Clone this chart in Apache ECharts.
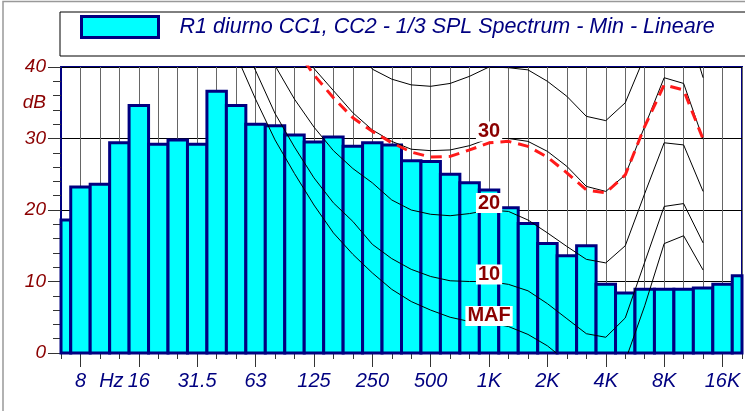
<!DOCTYPE html>
<html>
<head>
<meta charset="utf-8">
<script src="https://cdn.jsdelivr.net/npm/echarts@6/dist/echarts.min.js"></script>
<style>
  html, body { margin: 0; padding: 0; background: #fff; }
  #chart { width: 745px; height: 411px; }
</style>
</head>
<body>
<div id="chart"></div>
<script>
// 1/3 octave bands, 6.3 Hz .. 20 kHz
const bands = ['6.3','8','10','12.5','16','20','25','31.5','40','50','63','80','100','125','160','200','250','315','400','500','630','800',
  '1k','1.25k','1.6k','2k','2.5k','3.15k','4k','5k','6.3k','8k','10k','12.5k','16k','20k'];
// labels shown under the long ticks
const tickLabels = ['','8','','Hz','16','','','31.5','','','63','','','125','','','250','','','500','','','1K','','','2K','','','4K','','','8K','','','16K',''];

const barName = 'R1 diurno CC1, CC2 - 1/3 SPL Spectrum - Min - Lineare';
const spl = [18.6,23.2,23.6,29.4,34.6,29.2,29.8,29.2,36.6,34.6,32.0,31.8,30.5,29.5,30.2,28.9,29.4,29.1,26.9,26.8,25.0,23.8,
  22.8,20.3,18.1,15.3,13.6,15.0,9.6,8.4,8.9,8.9,8.9,9.1,9.6,10.8];

// equal loudness contours
const maf = [null,null,null,null,null,74.3,65.0,56.3,48.4,41.7,35.5,29.8,25.1,20.7,16.8,13.8,11.2,8.9,7.2,6.0,5.0,4.4,
  4.2,3.7,2.6,1.0,-1.2,-3.6,-3.9,-1.1,6.6,15.3,16.4,11.6];
const phon10 = [null,null,null,null,null,null,null,null,52.0,45.3,39.5,33.5,28.8,24.5,21.0,18.4,15.2,13.2,11.7,10.7,10.1,10.0,
  10.0,9.6,8.7,6.9,4.8,2.7,2.2,4.9,12.7,20.5,20.9,15.4];
const phon20 = [null,null,null,null,null,null,null,null,null,49.0,45.0,40.2,35.5,31.6,28.3,25.8,23.8,21.4,20.0,19.4,19.2,19.5,
  20.0,19.8,18.6,16.8,14.9,13.1,12.6,15.0,22.3,29.4,29.1,22.6];
const phon30 = [null,null,null,null,null,null,null,null,null,null,null,48.5,44.0,39.8,36.7,33.6,31.2,29.6,28.5,28.3,28.4,29.0,
  30.0,30.0,29.6,28.2,26.1,23.3,22.6,24.9,31.7,38.5,37.7,29.9];
const phon40 = [null,null,null,null,null,null,null,null,null,null,null,null,null,null,48.5,44.0,39.7,38.3,37.5,37.3,37.7,38.7,
  40.0,39.9,39.6,38.0,35.9,33.1,32.5,35.0,41.5,48.0,47.5,38.5];
const limit = [null,null,null,null,null,null,null,null,null,null,null,null,42.8,38.9,35.7,32.9,31.0,29.4,28.1,27.4,27.5,28.4,
  29.4,29.6,28.9,27.4,25.2,22.8,22.4,24.9,31.7,37.5,36.8,29.9];

const labelAt = 22; // 1 kHz
const FONT = 'Liberation Sans';
const CYAN = '#00FFFF', NAVY = '#000080';

function contour(name, values, text) {
  const data = values.map((v, i) => {
    if (i !== labelAt || !text) return v;
    return {
      value: v,
      label: {
        show: true, formatter: text, position: 'inside', offset: [0, -7],
        color: '#8B0000', fontWeight: 'bold', fontSize: 20, fontFamily: FONT,
        backgroundColor: '#fff', padding: [0, 2]
      }
    };
  });
  return {
    name: name, type: 'line', data: data,
    symbol: 'circle', symbolSize: 0, showSymbol: true,
    itemStyle: { color: 'rgba(0,0,0,0)' },
    lineStyle: { color: '#000', width: 1 },
    label: { show: false },
    silent: true, z: 3
  };
}

// bars centred on the band ticks, clipped to the plot area (half bars at both ends)
function renderBar(params, api) {
  const top = api.coord([api.value(0), api.value(1)]);
  const base = api.coord([api.value(0), 0]);
  const w = api.size([1, 0])[0];
  const cs = params.coordSys;
  const rect = echarts.graphic.clipRectByRect(
    { x: top[0] - w / 2, y: top[1], width: w, height: base[1] - top[1] },
    { x: cs.x, y: cs.y, width: cs.width, height: cs.height }
  );
  if (!rect) return;
  return { type: 'rect', shape: rect, style: { fill: CYAN, stroke: NAVY, lineWidth: 3 } };
}

const chart = echarts.init(document.getElementById('chart'), null, { renderer: 'canvas' });
chart.setOption({
  animation: false,
  backgroundColor: '#fff',
  grid: { left: 61, right: 1, top: 67, bottom: 58, show: true, borderColor: NAVY, borderWidth: 2 },
  legend: {
    data: [{ name: barName, icon: 'rect', itemStyle: { color: CYAN, borderColor: NAVY, borderWidth: 3 } }],
    left: 60, top: 12,
    padding: [3, 60, 17, 20],
    itemWidth: 77, itemHeight: 21,
    borderColor: '#000', borderWidth: 1,
    selectedMode: false,
    textStyle: { color: NAVY, fontStyle: 'italic', fontSize: 21.5, fontFamily: FONT, padding: [0, 0, 0, 16] }
  },
  xAxis: [{
    type: 'category', data: bands, boundaryGap: false,
    axisLine: { lineStyle: { color: NAVY, width: 2 } },
    axisTick: { interval: 0, length: 6, lineStyle: { color: '#333' } },
    axisLabel: { show: false },
    splitLine: { show: true, interval: 0, lineStyle: { color: '#666', width: 1 } }
  }, {
    type: 'category', data: bands, boundaryGap: false, position: 'bottom',
    axisLine: { show: false },
    axisTick: { interval: (i) => i % 3 === 1, length: 14, lineStyle: { color: '#333' } },
    axisLabel: {
      interval: 0, margin: 18,
      color: NAVY, fontStyle: 'italic', fontSize: 20, fontFamily: FONT,
      formatter: (v, i) => tickLabels[i] === 'Hz' ? '{hz|Hz}' : tickLabels[i],
      rich: { hz: { color: NAVY, fontStyle: 'italic', fontSize: 20, fontFamily: FONT, padding: [0, 16, 0, 0] } }
    },
    splitLine: { show: false }
  }],
  yAxis: [{
    type: 'value', min: 0, max: 40, interval: 10,
    axisLine: { show: true, lineStyle: { color: NAVY, width: 2 } },
    axisTick: { show: true, length: 13, lineStyle: { color: '#333' } },
    minorTick: { show: true, splitNumber: 5, length: 8, lineStyle: { color: '#333' } },
    axisLabel: { margin: 15, color: '#8B0000', fontStyle: 'italic', fontSize: 19, fontFamily: FONT },
    splitLine: { show: true, lineStyle: { color: '#000', width: 1 } }
  }, {
    type: 'value', min: 0, max: 40, interval: 5, position: 'left',
    axisLine: { show: false }, axisTick: { show: false }, splitLine: { show: false },
    axisLabel: {
      margin: 15, color: '#8B0000', fontStyle: 'italic', fontSize: 19, fontFamily: FONT,
      formatter: (v) => v === 35 ? 'dB' : ''
    }
  }],
  series: [
    {
      name: barName, type: 'custom', renderItem: renderBar,
      data: spl.map((v, i) => [i, v]),
      encode: { x: 0, y: 1 },
      itemStyle: { color: CYAN, borderColor: NAVY, borderWidth: 3 },
      silent: true, z: 2
    },
    contour('MAF', maf, 'MAF'),
    contour('10 phon', phon10, '10'),
    contour('20 phon', phon20, '20'),
    contour('30 phon', phon30, '30'),
    contour('40 phon', phon40, null),
    {
      name: 'limite', type: 'line', data: limit, showSymbol: false, silent: true, z: 4,
      lineStyle: { color: '#FF1A1A', width: 3, type: [11, 7] }
    }
  ],
  graphic: [{
    type: 'rect', silent: true, z: -1,
    shape: { x: 3, y: 1.5, width: 800, height: 500 },
    style: { fill: 'none', stroke: '#999', lineWidth: 1.5 }
  }]
});
</script>
</body>
</html>
